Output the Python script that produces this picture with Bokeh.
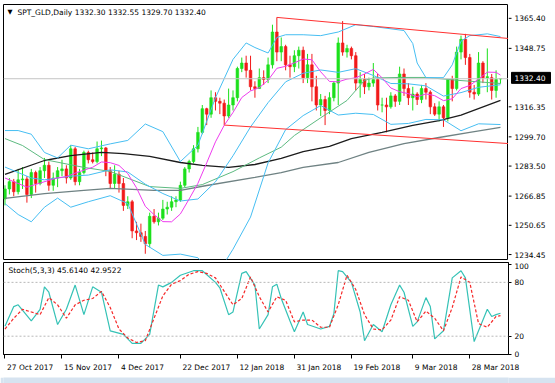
from bokeh.plotting import figure
from bokeh.layouts import column, row
from bokeh.models import (Range1d, FixedTicker, Span, Label, ColumnDataSource,
                          CustomJSTickFormatter)
from bokeh.core.properties import value
from bokeh.embed import file_html
from bokeh.resources import INLINE

symbol = "SPT_GLD,Daily"

opens = [1266.5,1272,1276,1270.5,1277,1277.5,1269,1281,1275,1282,
         1285,1274,1278,1282,1283,1278,1294,1276,1281,1292,
         1288,1287,1294,1294.5,1282,1275,1280,1275,1263,1265,
         1249,1248,1246,1242,1257,1254,1256,1261,1262,1265,
         1266,1274,1283,1287,1294,1303,1316,1313,1322,1320,
         1319,1312,1318,1322,1338,1341,1337,1328,1327,1333,
         1332,1340,1358,1347,1350,1340,1339,1345,1348,1333,
         1340,1328,1318,1321,1315,1322,1330,1352,1347,1349,
         1345,1330,1332,1328,1330,1332,1318,1318,1317,1323,
         1320,1335,1327,1322,1324,1321,1327,1325,1317,1313,
         1317,1311,1332,1327,1347,1354,1344,1325,1324,1341,
         1333,1333,1326,1332.30]
highs = [1274,1278,1277.5,1283,1284,1279,1283,1282,1284,1289,
         1287,1281,1284,1288,1285,1296,1295,1283,1293,1293,
         1292,1298,1298.5,1295,1284,1285,1282,1278,1268,1266,
         1254,1253,1249,1259,1261,1259,1266,1265,1268,1268,
         1276,1284,1288,1296,1306,1318,1316.5,1326,1325,1322,
         1321,1327,1326,1339,1344,1345,1345,1331,1338,1337,
         1344,1362,1366,1355,1351,1345,1348,1350,1350,1346,
         1346,1334,1324,1323,1325,1331,1355,1364,1351,1350,
         1347,1336,1335,1333,1341,1335,1322,1322,1325,1324,
         1339,1338,1330,1328,1325,1329,1330,1326,1319,1320,
         1318,1332,1334,1350,1356,1357,1346,1329,1347,1342,
         1349,1335,1337,1332.55]
lows = [1263,1269,1268,1269,1272,1264.5,1267,1270,1274,1278,
        1271,1271,1273,1279,1275,1277,1274,1274,1280,1286,
        1286,1286,1290,1279,1272,1272,1270,1260,1261,1245,
        1244,1243,1236.5,1240,1253,1252,1255,1258,1260,1262,
        1265,1273,1281,1286,1292,1302,1307,1311,1315,1313,
        1307,1311,1315,1320,1336,1333,1326,1322,1327,1329,
        1330,1338,1342,1342,1337,1333,1336,1338,1330,1330,
        1320,1315,1312,1307,1313,1320,1318,1345,1344,1343,
        1326,1322,1324,1326,1328,1315,1314,1303,1316,1317,
        1318,1323,1318,1315,1318,1319,1321,1313,1312,1309,
        1306,1309,1320,1326,1343,1340,1322,1321,1323,1330,
        1325,1321,1322,1329.70]
closes = [1272,1276,1270.5,1277,1277.5,1269,1281,1275,1282,1285,
          1274,1278,1282,1283,1278,1294,1276,1281,1292,1288,
          1287,1294,1294.5,1282,1275,1280,1275,1263,1265,1249,
          1248,1246,1242,1257,1254,1256,1261,1262,1265,1266,
          1274,1283,1287,1294,1303,1316,1313,1322,1320,1319,
          1312,1318,1322,1338,1341,1337,1328,1327,1333,1332,
          1340,1358,1347,1350,1340,1339,1345,1348,1333,1340,
          1328,1318,1321,1315,1322,1330,1352,1347,1349,1345,
          1330,1332,1328,1330,1332,1318,1318,1317,1323,1320,
          1335,1327,1322,1324,1321,1327,1325,1317,1313,1317,
          1311,1332,1327,1347,1354,1344,1325,1324,1341,1333,
          1333.5,1326,1332,1332.40]

date_ticks = [0, 13, 26, 40, 53, 66, 79, 93, 106]
date_labels = ["27 Oct 2017", "15 Nov 2017", "4 Dec 2017", "22 Dec 2017", "12 Jan 2018",
               "31 Jan 2018", "19 Feb 2018", "9 Mar 2018", "28 Mar 2018"]

price_ticks = [1234.45, 1250.65, 1266.85, 1283.50, 1299.70, 1316.35, 1348.75, 1365.40]
last_price = 1332.40

bb_upper_idx = [0,3,6,9,12,15,19,24,28,32,36,40,44,48,52,55,57,60,62,64,68,72,76,80,84,91,93,94,96,100,102,104,106,110,113]
bb_upper = [1304,1304,1302,1292,1289,1296,1294,1296.7,1298.6,1307.6,1303.4,1287,1296,1322,1343,1352,1349.5,1346.5,1355,1356.5,1356.5,1356,1358,1362,1361,1358.8,1351.7,1341,1333,1333,1340,1353,1356,1357,1355.5]
bb_idx = [0,3,6,9,12,15,19,24,28,32,36,40,44,48,52,56,60,64,68,72,76,80,84,88,92,96,100,104,108,113]
bb_mid = [1284,1281,1278,1277,1278,1279,1279.6,1282.5,1281.3,1274.6,1269.5,1265.4,1266.5,1275.9,1290.2,1306,1319.3,1330.7,1335.4,1337.2,1335.9,1337.9,1334.2,1329.8,1329.6,1328.5,1322.9,1324.8,1327.7,1329.1]
bb_lower = [1264,1258,1254,1262,1267,1262,1265,1268.3,1264,1241.6,1235.6,1236.3,1234.3,1223.6,1239,1256.6,1286.3,1304.5,1312.2,1317.7,1312.5,1313.5,1312.8,1307.4,1307.9,1310.1,1309.9,1303.9,1307.7,1307.3]

ma10_idx = [0,5,10,12,14,16,18,20,22,24,26,28,30,32,34,36,38,40,42,44,46,48,50,52,54,56,58,60,62,64,66,68,70,72,74,76,78,80,82,84,86,88,90,92,94,96,98,100,102,104,106,108,110,112,113]
ma10 = [1278,1273,1276.7,1278.1,1278.7,1280.7,1282.3,1283.9,1286.8,1286.4,1284.9,1280.4,1272.6,1262.5,1257.9,1254.1,1254,1258.3,1266.5,1275.1,1286.3,1297.8,1306.9,1313.9,1322.1,1325.7,1327.5,1331.6,1338.1,1339.2,1341.1,1343.2,1342.8,1336.2,1330.9,1330.7,1332.2,1332.9,1335,1337.5,1332.9,1327.3,1325.3,1324.2,1322.5,1324.1,1323.1,1320.4,1321.4,1327,1328.7,1332.2,1336,1335.9,1334.4]

ma50_idx = [0,4,9,18,24,33,40,45,52,58,63,66,72,78,82,84,90,96,104,113]
ma50 = [1299.6,1295.8,1288.1,1283.8,1281.6,1273.3,1272.3,1274.4,1281.5,1289,1294.9,1301.3,1311,1320.5,1331.5,1332.8,1333.1,1333.1,1331.4,1329.8]

ma100_idx = [0,9,15,22,27,33,40,45,51,57,63,68,74,79,86,93,99,104,113]
ma100 = [1280,1287.6,1290.3,1292,1291.4,1289.8,1286.5,1284.9,1283.8,1285.4,1288.7,1292.5,1295.3,1299.6,1303,1306.8,1309.5,1312.5,1320.5]

ma200_idx = [0,9,18,24,34,40,46,57,63,68,76,83,91,99,106,113]
ma200 = [1266.8,1269.5,1271.2,1272.3,1271.2,1271.2,1273.9,1278.3,1281,1283.8,1286.5,1292,1296.9,1300.2,1303,1305.7]

trend_upper_idx = [62, 116]
trend_upper_val = [1366.0, 1354.2]
trend_lower_idx = [50, 116]
trend_lower_val = [1307.0, 1296.7]

stoch_main_idx = [0,2,3,6,8,9,10,12,14,16,18,20,22,24,27,29,31,33,35,36,38,40,43,45,48,49,51,52,54,55,57,58,60,61,62,63,65,66,68,69,72,74,75,76,77,79,81,82,84,86,88,90,91,93,94,96,97,98,100,102,104,105,107,110,111,112,113]
stoch_main = [31,53,55,37,50,75,69,33,50,77,44,75,69,26,22,12,12,22,77,75,80,88,93,93,80,74,44,47,90,92,77,28,44,75,78,62,37,25,47,33,28,31,45,93,92,80,47,15,33,25,55,77,69,31,36,63,53,17,26,85,93,85,14,50,42,44,45.6]
stoch_sig_idx = [0,2,4,6,8,10,12,14,16,18,20,22,24,26,28,30,32,34,36,38,40,42,44,46,48,50,52,54,56,58,60,62,64,66,68,70,72,74,76,78,80,82,84,86,88,90,92,94,96,98,100,102,104,106,108,110,112,113]
stoch_sig = [28,40,50,47,44,63,55,40,55,60,62,70,52,28,18,13,15,40,65,78,82,89,92,90,85,70,55,62,86,64,47,64,60,36,38,38,30,30,55,88,72,44,28,27,38,64,60,36,48,40,26,52,86,80,34,30,42,42.95]
stoch_levels = [20, 80]
stoch_ticks = [0, 20, 80, 100]
stoch_main_last = 45.6140
stoch_sig_last = 42.9522

# ---------------- style / layout ----------------
FONT = "DejaVu Sans"
FS_PX = 7.5
FS = f"{FS_PX}px"
BULL = "#1CE01C"
BEAR = "#F21A1A"
BB = "#46BEF2"

FRAME_W = 505                      # plot area width (px)
XS, XE = -0.34, 114.83             # bar-index range shown
PX_PER_BAR = FRAME_W / (XE - XS)

n = len(closes)
idx = list(range(n))
colors = [BULL if c >= o else BEAR for o, c in zip(opens, closes)]
src = ColumnDataSource(dict(
    x=idx, high=highs, low=lows,
    top=[max(o, c) for o, c in zip(opens, closes)],
    bottom=[min(o, c) for o, c in zip(opens, closes)],
    color=colors))

xr = Range1d(XS, XE)
yr = Range1d(1233.35, 1373.07)

def clean(fig):
    fig.xgrid.visible = False
    fig.ygrid.visible = False
    fig.background_fill_color = "white"
    fig.border_fill_color = "white"

# ---------------- main price panel ----------------
p = figure(width=508, height=262, x_range=xr, y_range=yr,
           x_axis_location=None, y_axis_location=None, toolbar_location=None,
           output_backend="svg", min_border_left=3, min_border_right=0,
           min_border_top=4, min_border_bottom=3)
clean(p)
p.outline_line_color = "black"

p.add_layout(Span(location=last_price, dimension="width", line_color="#C4C4C4", line_width=1))

p.segment(x0="x", y0="low", x1="x", y1="high", line_color="color", line_width=1, source=src)
p.vbar(x="x", width=0.6, top="top", bottom="bottom", fill_color="color",
       line_color="color", line_width=0.6, source=src)

p.line(ma200_idx, ma200, line_color="#6F8283", line_width=1.3)
p.line(ma100_idx, ma100, line_color="#1C1C1C", line_width=1.3)
p.line(ma50_idx, ma50, line_color="#5DBA80", line_width=1)
p.line(bb_upper_idx, bb_upper, line_color=BB, line_width=1)
p.line(bb_idx, bb_mid, line_color=BB, line_width=1)
p.line(bb_idx, bb_lower, line_color=BB, line_width=1)
p.line(ma10_idx, ma10, line_color="#EE3CEE", line_width=1)
p.line(trend_upper_idx, trend_upper_val, line_color="#FF3030", line_width=1)
p.line(trend_lower_idx, trend_lower_val, line_color="#FF3030", line_width=1)

p.add_layout(Label(x=XS, y=1368.7, x_offset=4, text="\u25bc", text_font=FONT,
                   text_font_size="6.5px", text_color="black", text_baseline="middle"))
p.add_layout(Label(x=XS, y=1368.7, x_offset=14,
                   text=f"{symbol}  {opens[-1]:.2f} {highs[-1]:.2f} {lows[-1]:.2f} {closes[-1]:.2f}",
                   text_font=FONT, text_font_size=FS, text_color="black", text_baseline="middle"))

# ---------------- price scale (right of main panel) ----------------
ps = figure(width=47, height=262, x_range=Range1d(0, 47),
            y_range=Range1d(1233.35 - 3 / 1.825, 1373.07),
            x_axis_location=None, y_axis_location=None, toolbar_location=None,
            output_backend="svg", min_border_left=0, min_border_right=0,
            min_border_top=4, min_border_bottom=0)
clean(ps)
ps.outline_line_color = None
tick_src = ColumnDataSource(dict(y=price_ticks, label=[f"{v:.2f}" for v in price_ticks]))
ps.segment(x0=0, x1=3, y0="y", y1="y", line_color="black", line_width=1, source=tick_src)
ps.text(x=6, y="y", text="label", source=tick_src, text_font=value(FONT),
        text_font_size=value(FS), text_color="black", text_baseline="middle", text_align="left")
ps.rect(x=22.5, y=last_price, width=39, height=11, height_units="screen",
        fill_color="black", line_color="black")
ps.text(x=6, y=last_price, text=value(f"{last_price:.2f}"), text_font=value(FONT),
        text_font_size=value(FS), text_color="white", text_baseline="middle", text_align="left")

# ---------------- stochastic panel ----------------
s = figure(width=555, height=112, x_range=xr, y_range=Range1d(-0.4, 102.15),
           y_axis_location="right", x_axis_location="below", toolbar_location=None,
           output_backend="svg", min_border_left=3, min_border_top=0,
           min_border_bottom=18, min_border_right=47)
clean(s)
s.outline_line_color = "black"

sy = s.yaxis[0]
sy.ticker = FixedTicker(ticks=stoch_ticks)
sy.major_tick_in = 0
sy.major_tick_out = 3
sy.minor_tick_line_color = None
sy.major_label_standoff = 3
sy.major_label_text_font = FONT
sy.major_label_text_font_size = FS
sy.major_label_text_color = "black"
sy.axis_line_color = "black"

# date axis: small marks (minor ticks) at the dated bars, left-aligned texts
# realised by centring each (mark-less) major label just right of its mark
CW = {" ": 0.318, "O": 0.787, "c": 0.55, "t": 0.392, "N": 0.748, "o": 0.612, "v": 0.592,
      "D": 0.770, "e": 0.615, "J": 0.295, "a": 0.613, "n": 0.634, "F": 0.575, "b": 0.635,
      "M": 0.863, "r": 0.411}
def text_w(t):
    return sum(CW.get(ch, 0.636) for ch in t) * FS_PX
label_pos = [t + (2 + text_w(l) / 2) / PX_PER_BAR for t, l in zip(date_ticks, date_labels)]

sx = s.xaxis[0]
sx.ticker = FixedTicker(ticks=label_pos, minor_ticks=date_ticks)
sx.formatter = CustomJSTickFormatter(args=dict(pos=label_pos, labels=date_labels), code="""
    let best = 0, bd = 1e9;
    for (let i = 0; i < pos.length; i++) {
        const d = Math.abs(pos[i] - tick);
        if (d < bd) { bd = d; best = i; }
    }
    return labels[best];
""")
sx.major_tick_in = 0
sx.major_tick_out = 0
sx.major_tick_line_color = None
sx.minor_tick_in = 0
sx.minor_tick_out = 4
sx.minor_tick_line_color = "black"
sx.major_label_standoff = 4
sx.major_label_text_font = FONT
sx.major_label_text_font_size = FS
sx.major_label_text_color = "black"
sx.axis_line_color = "black"

for lv in stoch_levels:
    s.add_layout(Span(location=lv, dimension="width", line_color="#B8B8B8",
                      line_width=1, line_dash="2 2"))
s.line(stoch_main_idx, stoch_main, line_color="#35C2B6", line_width=1.2)
s.line(stoch_sig_idx, stoch_sig, line_color="#F52828", line_width=1.2, line_dash="3 2")

s.add_layout(Label(x=XS, y=93.4, x_offset=5,
                   text=f"Stoch(5,3,3) {stoch_main_last:.4f} {stoch_sig_last:.4f}",
                   text_font=FONT, text_font_size=FS, text_color="black", text_baseline="middle"))

# ---------------- bottom window strip ----------------
bf = figure(width=555, height=9, toolbar_location=None, x_axis_location=None,
            y_axis_location=None, output_backend="svg", min_border_left=0,
            min_border_right=0, min_border_top=0, min_border_bottom=0)
bf.xgrid.visible = False
bf.ygrid.visible = False
bf.outline_line_color = None
bf.background_fill_color = "#D6E3F0"
bf.border_fill_color = "#D6E3F0"

layout = column(row(p, ps), s, bf)
open("out.html", "w").write(file_html(layout, INLINE))
